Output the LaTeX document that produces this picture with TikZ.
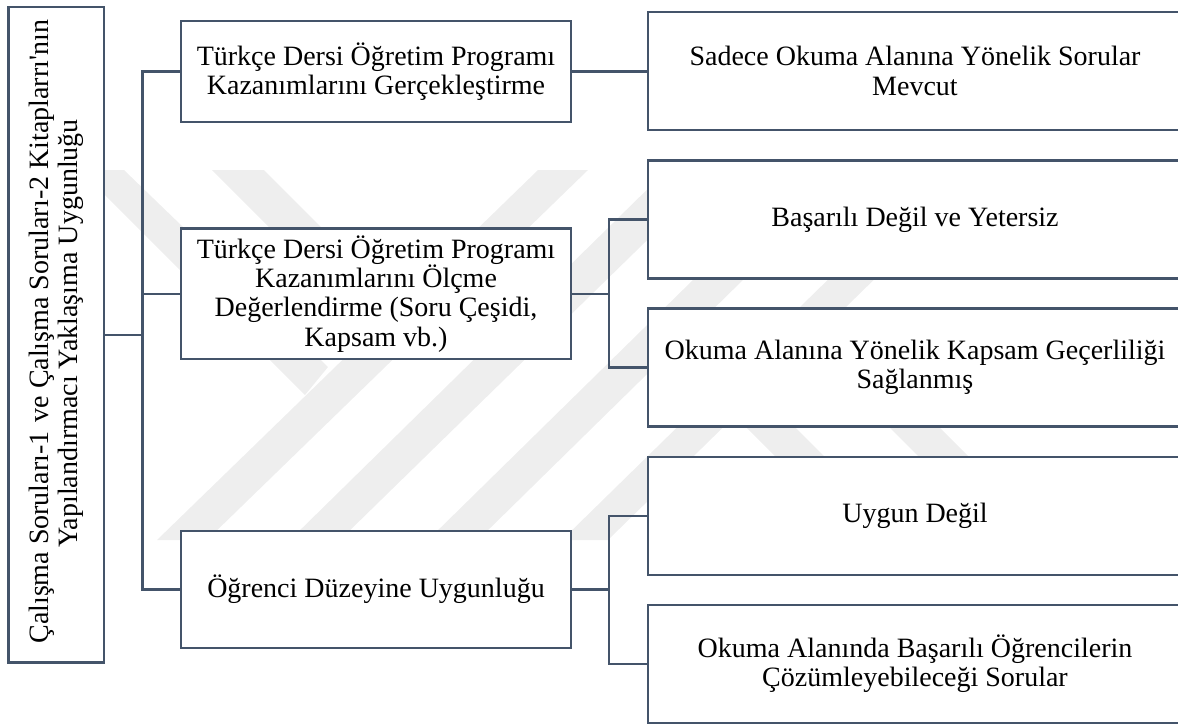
\documentclass[tikz,border=0pt]{standalone}
\usepackage{fontspec}
\setmainfont{Liberation Serif}
\usepackage{xcolor}
\definecolor{garisbiru}{HTML}{44546A}
\definecolor{damga}{HTML}{EEEEEE}
\tikzset{
    kotak/.style={draw=garisbiru, line width=2.2pt, fill=white, rectangle, inner sep=0pt, align=center, font=\fontsize{28}{29.3}\selectfont},
    orta/.style={kotak, minimum width=390.5pt},
    kanan/.style={kotak, minimum width=534pt, minimum height=118pt},
    garis/.style={draw=garisbiru, line width=2.2pt}
}
\begin{document}
\begin{tikzpicture}[x=1pt,y=-1pt]
    \useasboundingbox (0,0) rectangle (1178,724);
    %DAMGA
    \fill[damga] (538,170) -- (588,170) -- (207,540) -- (157,540) -- cycle;
    \fill[damga] (667,170) -- (719,170) -- (340,540) -- (290,540) -- cycle;
    \fill[damga] (805,170) -- (855,170) -- (478,540) -- (428,540) -- cycle;
    \fill[damga] (940,170) -- (986,170) -- (608,540) -- (562,540) -- cycle;
    \fill[damga] (80,170) -- (124,170) -- (328,367) -- (305,395) -- cycle;
    \fill[damga] (212,170) -- (264,170) -- (400,306) -- (372,330) -- cycle;
    \fill[damga] (680,361) -- (730,362) -- (908,540) -- (859,540) -- cycle;
    \fill[damga] (800,338) -- (850,338) -- (1052,540) -- (1002,540) -- cycle;
    %KOTAK KIRI
    \node[kotak, rotate=90, minimum width=655.5pt, minimum height=95.5pt] (calisma) at (56.2,334.8) {\hspace*{6pt}Çalışma Soruları-1\hspace{9pt}ve Çalışma Soruları-2 Kitaplarrı\textquotesingle nın\\\hspace*{3pt}Yapılandırmacı Yaklaşıma Uygunluğu};
    %KOTAK TENGAH
    \node[orta, minimum height=101.5pt] (gerceklestirme) at (376,71.4) {Türkçe Dersi Öğretim Programı\\Kazanımlarını Gerçekleştirme};
    \node[orta, minimum height=130.5pt] (olcme) at (376,293.8) {Türkçe Dersi Öğretim Programı\\Kazanımlarını Ölçme\\Değerlendirme (Soru Çeşidi,\\Kapsam vb.)};
    \node[orta, minimum height=117.5pt] (duzey) at (376,589.4) {Öğrenci Düzeyine Uygunluğu};
    %KOTAK KANAN
    \node[kanan] (sadece) at (915,71) {Sadece Okuma Alanına Yönelik Sorular\\Mevcut};
    \node[kanan] (basarili) at (915,219.5) {Başarılı Değil ve Yetersiz};
    \node[kanan] (kapsam) at (915,367.5) {Okuma Alanına Yönelik Kapsam Geçerliliği\\Sağlanmış};
    \node[kanan] (uygun) at (915,516) {Uygun Değil};
    \node[kanan] (ogrenci) at (915,664) {Okuma Alanında Başarılı Öğrencilerin\\Çözümleyebileceği Sorular};
    %GARIS
    \coordinate (batang) at (142.5,334.8);
    \coordinate (batangolcme) at (609,293.8);
    \coordinate (batangduzey) at (609,589.4);
    \draw[garis] (calisma.south) -- (batang);
    \draw[garis] (gerceklestirme.west) -| (batang) |- (duzey.west);
    \draw[garis] (batang |- olcme.west) -- (olcme.west);
    \draw[garis] (gerceklestirme.east) -- (sadece.west |- gerceklestirme.east);
    \draw[garis] (olcme.east) -- (batangolcme);
    \draw[garis] (basarili.west) -| (batangolcme) |- (kapsam.west);
    \draw[garis] (duzey.east) -- (batangduzey);
    \draw[garis] (uygun.west) -| (batangduzey) |- (ogrenci.west);
\end{tikzpicture}
\end{document}
